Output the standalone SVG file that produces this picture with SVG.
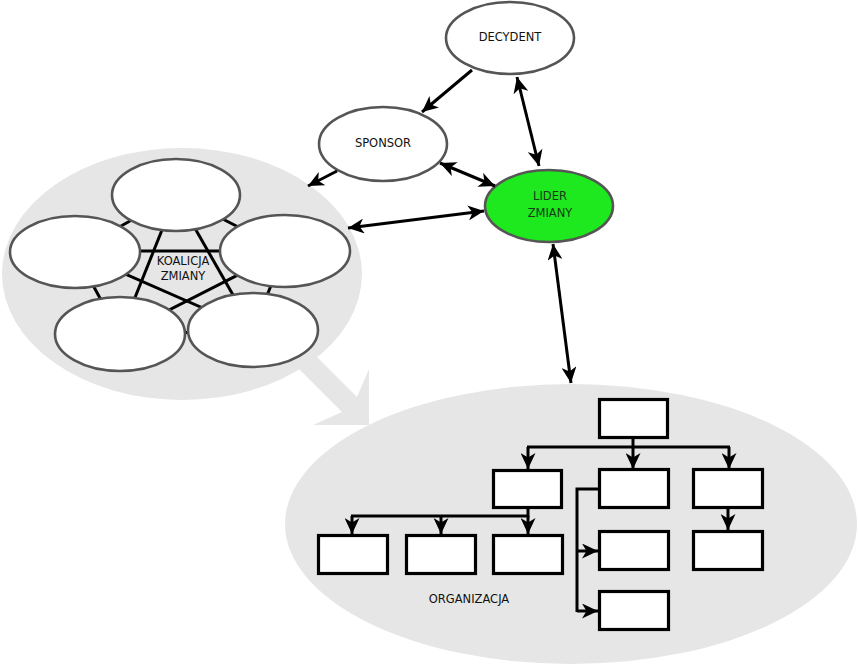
<svg xmlns="http://www.w3.org/2000/svg" width="859" height="666" viewBox="0 0 859 666">
<style>
.bg{fill:#e6e6e6;stroke:none}
.node{fill:#ffffff;stroke:#555555;stroke-width:2.6}
.lider{fill:#1ee81e;stroke:#555555;stroke-width:2.6}
.box{fill:#ffffff;stroke:#000000;stroke-width:3.2}
.link{stroke:#000000;stroke-width:3;fill:none}
.arr{stroke:#000000;stroke-width:3;fill:none;marker-end:url(#ah)}
.arr2{stroke:#000000;stroke-width:3;fill:none;marker-end:url(#ah);marker-start:url(#ah)}
text{font-family:"DejaVu Sans","Liberation Sans",sans-serif;font-size:11.5px;fill:#111111;text-anchor:middle}
</style>
<defs>
<marker id="ah" markerUnits="userSpaceOnUse" viewBox="0 0 16 15" refX="16" refY="7.5" markerWidth="16" markerHeight="15" orient="auto-start-reverse">
<path d="M0,0 L16,7.5 L0,15 L4.5,7.5 z" fill="#000000"/>
</marker>
</defs>

<g id="background">
<ellipse class="bg" cx="182" cy="274" rx="180" ry="126"/>
<polygon class="bg" points="280,350 342,412 313,425 369,425 369,369 357,397 295,335"/>
<ellipse class="bg" cx="571" cy="524" rx="286" ry="140"/>
</g>

<g id="koalicja-links">
<line class="link" x1="176" y1="195" x2="75" y2="252"/>
<line class="link" x1="176" y1="195" x2="285" y2="251"/>
<line class="link" x1="75" y1="252" x2="120" y2="335"/>
<line class="link" x1="285" y1="251" x2="253" y2="330"/>
<line class="link" x1="120" y1="335" x2="253" y2="330"/>
<line class="link" x1="75" y1="251" x2="285" y2="251"/>
<line class="link" x1="176" y1="195" x2="120" y2="335"/>
<line class="link" x1="176" y1="195" x2="253" y2="330"/>
<line class="link" x1="75" y1="252" x2="253" y2="330"/>
<line class="link" x1="285" y1="251" x2="120" y2="335"/>
</g>

<g id="koalicja-top"><ellipse class="node" cx="176" cy="195" rx="64" ry="36"/></g>
<g id="koalicja-left"><ellipse class="node" cx="75" cy="252" rx="65" ry="36"/></g>
<g id="koalicja-right"><ellipse class="node" cx="285" cy="251" rx="65" ry="36"/></g>
<g id="koalicja-bottom-left"><ellipse class="node" cx="120" cy="334" rx="65" ry="37"/></g>
<g id="koalicja-bottom-right"><ellipse class="node" cx="253" cy="330" rx="65" ry="37"/></g>
<g id="koalicja-label">
<text x="183" y="265">KOALICJA</text>
<text x="183" y="280">ZMIANY</text>
</g>

<g id="decydent">
<ellipse class="node" cx="510" cy="38" rx="64" ry="36"/>
<text x="510" y="41">DECYDENT</text>
</g>
<g id="sponsor">
<ellipse class="node" cx="383" cy="144" rx="64" ry="37"/>
<text x="383" y="147">SPONSOR</text>
</g>
<g id="lider">
<ellipse class="lider" cx="549" cy="206" rx="64" ry="36"/>
<text x="550" y="200" style="fill:#1a3a1a">LIDER</text>
<text x="550" y="217" style="fill:#1a3a1a">ZMIANY</text>
</g>

<g id="organizacja-label"><text x="469" y="603">ORGANIZACJA</text></g>

<g id="connectors">
<line class="arr" x1="472" y1="70" x2="422" y2="112"/>
<line class="arr2" x1="517" y1="77" x2="539" y2="166"/>
<line class="arr2" x1="440" y1="163" x2="495" y2="186"/>
<line class="arr2" x1="348" y1="228" x2="484" y2="211"/>
<line class="arr" x1="337" y1="171" x2="308" y2="186"/>
<line class="arr2" x1="553" y1="244" x2="571" y2="383"/>

<polyline class="link" points="633,439 633,447"/>
<line class="link" x1="527" y1="447" x2="730" y2="447"/>
<line class="arr" x1="528" y1="447" x2="528" y2="469"/>
<line class="arr" x1="633" y1="447" x2="633" y2="469"/>
<line class="arr" x1="729" y1="447" x2="729" y2="469"/>

<polyline class="link" points="528,509 528,516 351,516"/>
<line class="arr" x1="352" y1="516" x2="352" y2="534"/>
<line class="arr" x1="441" y1="516" x2="441" y2="534"/>
<line class="arr" x1="528" y1="516" x2="528" y2="534"/>

<polyline class="link" points="598,489 577,489 577,612"/>
<line class="arr" x1="577" y1="551" x2="598" y2="551"/>
<line class="arr" x1="577" y1="611" x2="598" y2="611"/>

<line class="arr" x1="728" y1="509" x2="728" y2="530"/>
</g>

<g id="org-top"><rect class="box" x="599.5" y="399.5" width="68" height="38"/></g>
<g id="org-r2-1"><rect class="box" x="493.5" y="470.5" width="68" height="37"/></g>
<g id="org-r2-2"><rect class="box" x="599.5" y="469.5" width="69" height="38"/></g>
<g id="org-r2-3"><rect class="box" x="693.5" y="469.5" width="69" height="38"/></g>
<g id="org-r3-1"><rect class="box" x="318.5" y="535.5" width="69" height="38"/></g>
<g id="org-r3-2"><rect class="box" x="406.5" y="535.5" width="69" height="38"/></g>
<g id="org-r3-3"><rect class="box" x="493.5" y="535.5" width="69" height="38"/></g>
<g id="org-r3-4"><rect class="box" x="599.5" y="531.5" width="69" height="38"/></g>
<g id="org-r3-5"><rect class="box" x="693.5" y="531.5" width="69" height="38"/></g>
<g id="org-r4"><rect class="box" x="599.5" y="591.5" width="69" height="38"/></g>
</svg>
